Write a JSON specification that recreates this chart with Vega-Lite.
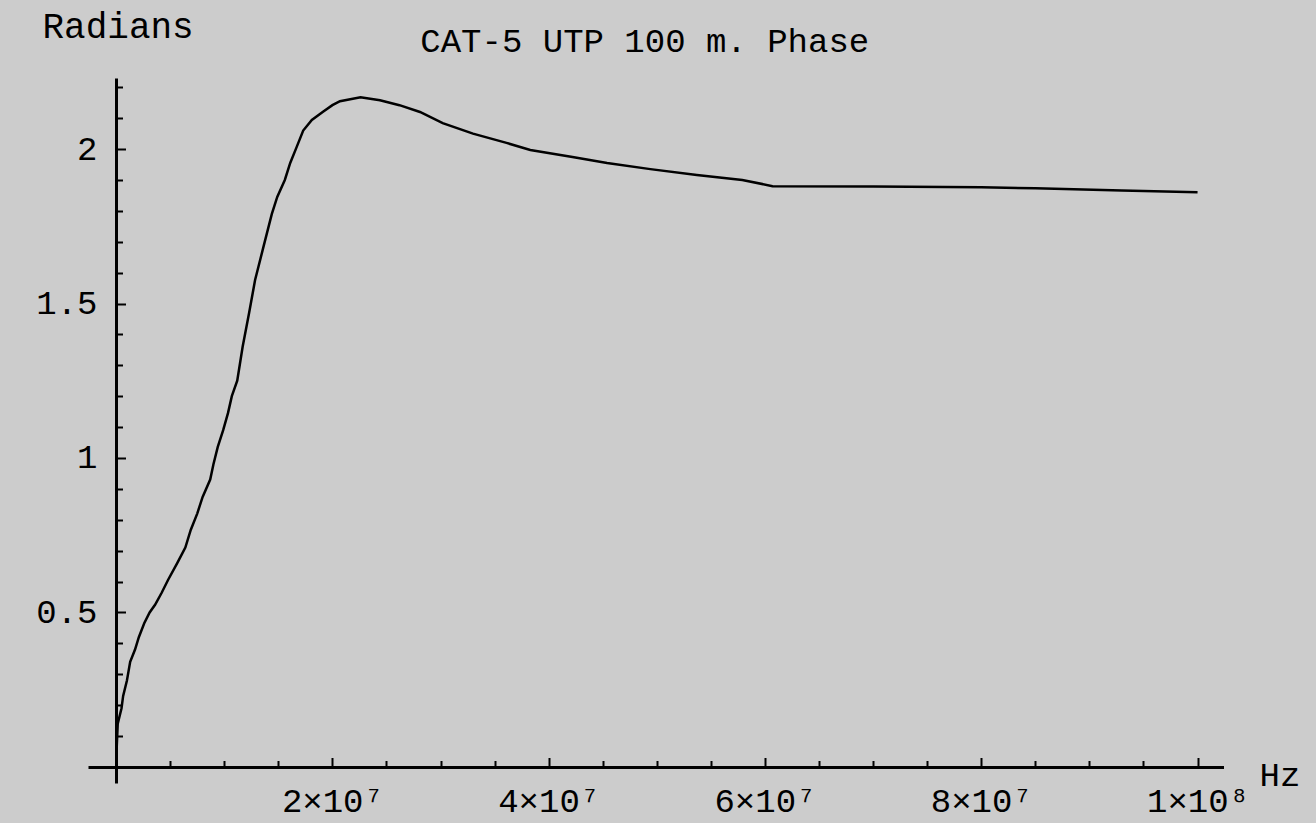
{
  "$schema": "https://vega.github.io/schema/vega-lite/v6.json",
  "width": 1135.5,
  "height": 705,
  "padding": {"left": 88, "top": 78, "right": 92.5, "bottom": 40},
  "autosize": {"type": "none"},
  "background": "#cccccc",
  "config": {
    "view": {"stroke": null},
    "font": "Liberation Mono",
    "title": {"font": "Liberation Mono", "fontSize": 34, "fontWeight": "normal", "color": "black"}
  },
  "title": {"text": "CAT-5 UTP 100 m. Phase", "anchor": "middle", "frame": "group", "dx": -11, "dy": 78, "offset": 0, "baseline": "alphabetic"},
  "data": {"values": [
    {"f": 50000, "phase": 0.06},
    {"f": 150000, "phase": 0.14},
    {"f": 500000, "phase": 0.19},
    {"f": 650000, "phase": 0.23},
    {"f": 1000000, "phase": 0.28},
    {"f": 1300000, "phase": 0.34},
    {"f": 1750000, "phase": 0.38},
    {"f": 2100000, "phase": 0.42},
    {"f": 2600000, "phase": 0.465},
    {"f": 3100000, "phase": 0.5},
    {"f": 3600000, "phase": 0.525},
    {"f": 4200000, "phase": 0.563},
    {"f": 4800000, "phase": 0.605},
    {"f": 5650000, "phase": 0.66},
    {"f": 6400000, "phase": 0.71},
    {"f": 6900000, "phase": 0.767},
    {"f": 7500000, "phase": 0.82},
    {"f": 8000000, "phase": 0.874},
    {"f": 8700000, "phase": 0.93},
    {"f": 9000000, "phase": 0.98},
    {"f": 9400000, "phase": 1.036},
    {"f": 9900000, "phase": 1.09},
    {"f": 10350000, "phase": 1.146},
    {"f": 10700000, "phase": 1.2},
    {"f": 11200000, "phase": 1.25},
    {"f": 11700000, "phase": 1.36},
    {"f": 12300000, "phase": 1.47},
    {"f": 12850000, "phase": 1.576},
    {"f": 13600000, "phase": 1.68},
    {"f": 14400000, "phase": 1.79},
    {"f": 14900000, "phase": 1.845},
    {"f": 15600000, "phase": 1.9},
    {"f": 16100000, "phase": 1.955},
    {"f": 16700000, "phase": 2.007},
    {"f": 17300000, "phase": 2.06},
    {"f": 18100000, "phase": 2.094},
    {"f": 19100000, "phase": 2.12},
    {"f": 20000000, "phase": 2.142},
    {"f": 20700000, "phase": 2.155},
    {"f": 22600000, "phase": 2.168},
    {"f": 24400000, "phase": 2.158},
    {"f": 26200000, "phase": 2.142},
    {"f": 28100000, "phase": 2.12},
    {"f": 30200000, "phase": 2.084},
    {"f": 33000000, "phase": 2.05},
    {"f": 36100000, "phase": 2.02},
    {"f": 38300000, "phase": 1.997},
    {"f": 42200000, "phase": 1.974},
    {"f": 45400000, "phase": 1.955},
    {"f": 49400000, "phase": 1.935},
    {"f": 53700000, "phase": 1.916},
    {"f": 57900000, "phase": 1.9},
    {"f": 60700000, "phase": 1.88},
    {"f": 70000000, "phase": 1.879},
    {"f": 80000000, "phase": 1.876},
    {"f": 85000000, "phase": 1.873},
    {"f": 93000000, "phase": 1.866},
    {"f": 100000000, "phase": 1.86}
  ]},
  "resolve": {"axis": {"x": "independent", "y": "independent"}},
  "layer": [
    {
      "mark": {"type": "line", "color": "black", "strokeWidth": 2.5, "clip": false},
      "encoding": {
        "x": {
          "field": "f", "type": "quantitative",
          "scale": {"domain": [-2600000, 102400000], "nice": false, "zero": false},
          "axis": {
            "orient": "bottom", "offset": -16, "grid": false,
            "domain": true, "domainColor": "black", "domainWidth": 3,
            "values": [20000000, 40000000, 60000000, 80000000, 100000000],
            "ticks": true, "tickColor": "black", "tickWidth": 2, "tickSize": -9.5,
            "labelExpr": "datum.value === 100000000 ? '1×10⁸' : (datum.value / 10000000) + '×10⁷'",
            "labelFont": "Liberation Mono", "labelFontSize": 34, "labelColor": "black",
            "labelBaseline": "alphabetic", "labelPadding": 53.5, "labelFlush": false, "labelOverlap": false,
            "title": "Hz", "titleFont": "Liberation Mono", "titleFontSize": 34, "titleFontWeight": "normal", "titleColor": "black",
            "titleAngle": 0, "titleX": 1171, "titleY": 18, "titleAlign": "left", "titleBaseline": "alphabetic"
          }
        },
        "y": {
          "field": "phase", "type": "quantitative",
          "scale": {"domain": [-0.052, 2.23], "nice": false, "zero": false},
          "axis": {
            "orient": "left", "offset": -28, "grid": false,
            "domain": true, "domainColor": "black", "domainWidth": 3,
            "values": [0.5, 1, 1.5, 2],
            "ticks": true, "tickColor": "black", "tickWidth": 2, "tickSize": -9.5,
            "labelExpr": "'' + datum.value",
            "labelFont": "Liberation Mono", "labelFontSize": 34, "labelColor": "black",
            "labelBaseline": "middle", "labelPadding": 28.5, "labelOverlap": false, "labelFlush": false,
            "title": "Radians", "titleFont": "Liberation Mono", "titleFontSize": 36, "titleFontWeight": "normal", "titleColor": "black",
            "titleAngle": 0, "titleX": -74, "titleY": -41, "titleAlign": "left", "titleBaseline": "alphabetic"
          }
        }
      }
    },
    {
      "mark": {"type": "line", "color": "black", "strokeWidth": 2.5, "opacity": 0, "clip": false},
      "encoding": {
        "x": {
          "field": "f", "type": "quantitative",
          "axis": {
            "orient": "bottom", "offset": -16, "grid": false, "domain": false, "labels": false, "title": null,
            "values": [5000000, 10000000, 15000000, 25000000, 30000000, 35000000, 45000000, 50000000, 55000000, 65000000, 70000000, 75000000, 85000000, 90000000, 95000000],
            "ticks": true, "tickColor": "black", "tickWidth": 2, "tickSize": -6.5
          }
        },
        "y": {
          "field": "phase", "type": "quantitative",
          "axis": {
            "orient": "left", "offset": -28, "grid": false, "domain": false, "labels": false, "title": null,
            "values": [0.1, 0.2, 0.3, 0.4, 0.6, 0.7, 0.8, 0.9, 1.1, 1.2, 1.3, 1.4, 1.6, 1.7, 1.8, 1.9, 2.1, 2.2],
            "ticks": true, "tickColor": "black", "tickWidth": 2, "tickSize": -6.5
          }
        }
      }
    }
  ]
}
